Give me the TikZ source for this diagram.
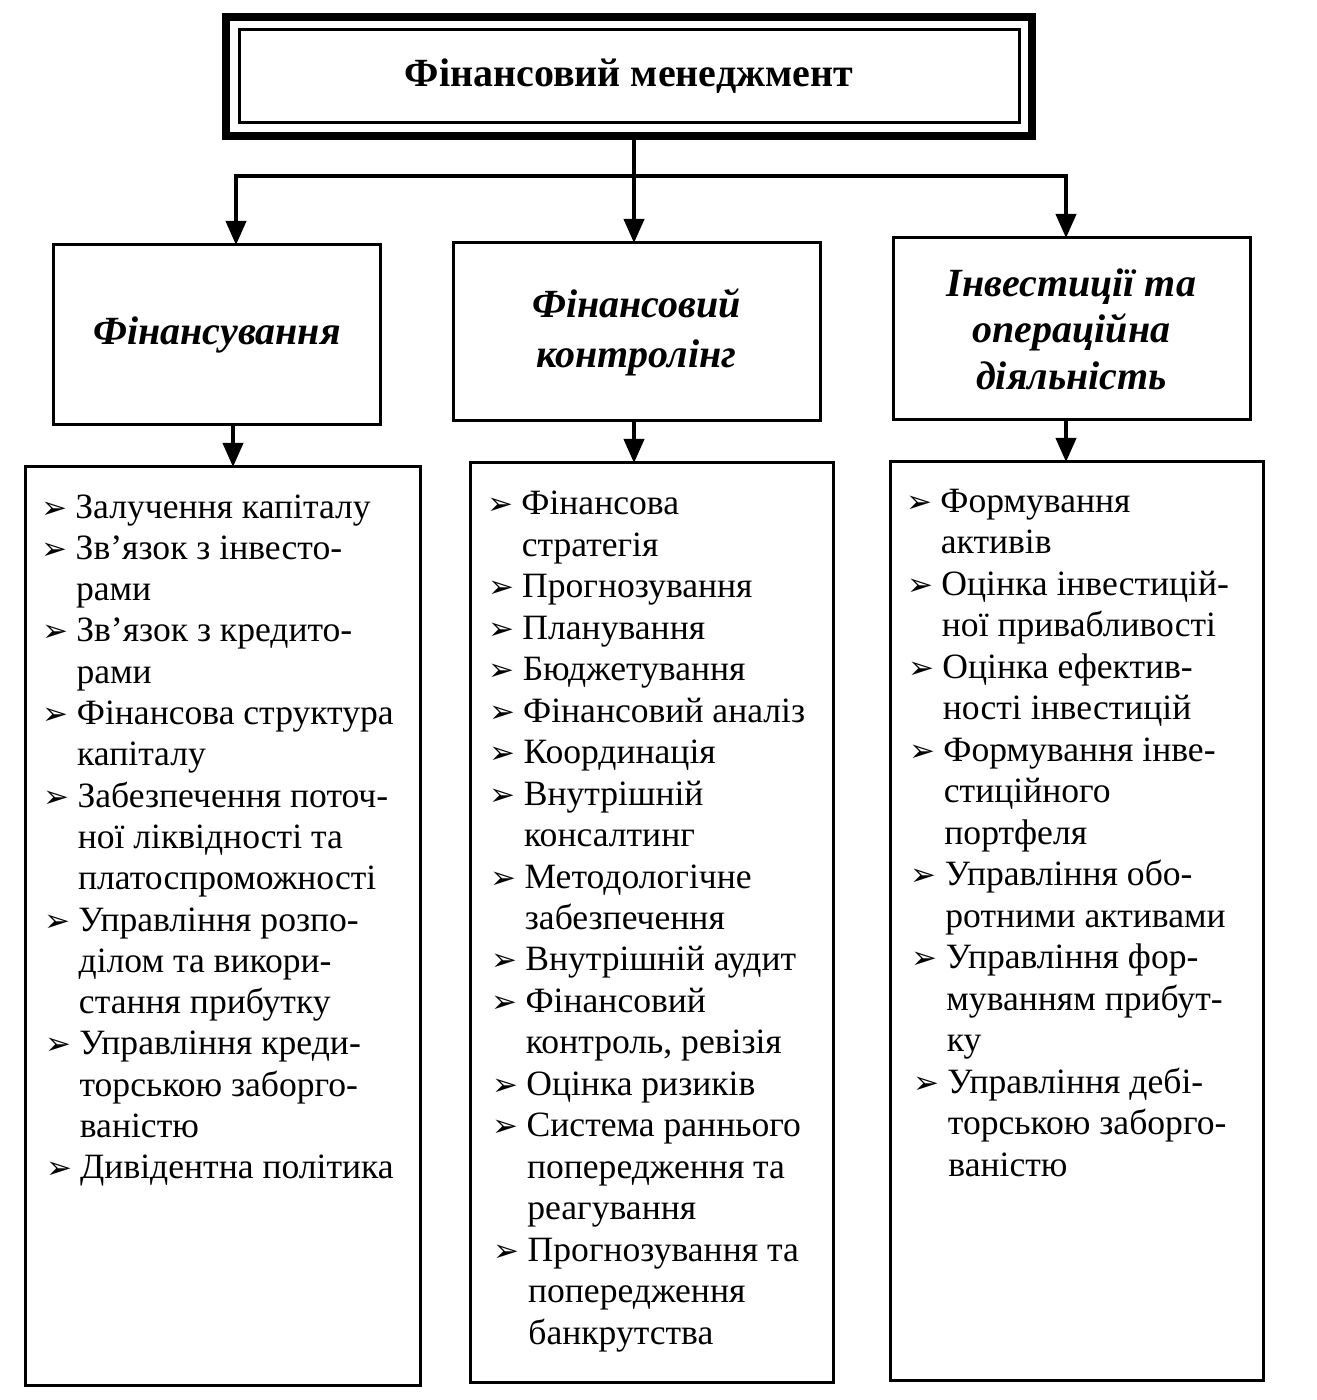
\documentclass[tikz,border=0pt]{standalone}
\usepackage{fontspec}
\setmainfont{Liberation Serif}
\newfontfamily\symfont{DejaVu Sans}
\usetikzlibrary{arrows.meta}
\newcommand\bul{\makebox[17pt][l]{\symfont\fontsize{15.5}{15.5}\selectfont ➢}}
\newcommand\nob{\makebox[17pt][l]{}}
\begin{document}
\begin{tikzpicture}[x=0.5pt,y=-0.5pt,
  box/.style={draw, line width=1.5pt, inner sep=0pt, outer sep=0pt},
  head/.style={box, font=\fontsize{20}{24}\selectfont\bfseries\itshape, align=center},
  li/.style={anchor=base west, inner sep=0pt, font=\fontsize{17.8}{20}\selectfont},
  arr/.style={line width=2pt, -{Triangle[length=12pt,width=10pt]}},
  conn/.style={line width=2pt},
]
\useasboundingbox (0,0) rectangle (1316,1400);
\fill[white] (0,0) rectangle (1316,1400);
% top box
\node[draw, line width=4pt, outer sep=0pt, minimum width=403pt, minimum height=59.5pt,
      font=\fontsize{20}{24}\selectfont\bfseries] (top) at (629,76.5) {Фінансовий менеджмент};
\draw[line width=1.5pt] ([shift={(6.5pt,-6.5pt)}]top.north west) rectangle ([shift={(-6.5pt,6.5pt)}]top.south east);
% header boxes
\node[head, minimum width=163.5pt, minimum height=90pt] (h1) at (217,335) {Фінансування};
\node[head, minimum width=183.5pt, minimum height=89pt, font=\fontsize{20}{25}\selectfont\bfseries\itshape] (h2) at (636.5,332) {Фінансовий\\контролінг};
\node[head, minimum width=178.5pt, minimum height=91pt, font=\fontsize{20}{23.25}\selectfont\bfseries\itshape] (h3) at (1071.5,329) {Інвестиції та\\операційна\\діяльність};
% list boxes
\node[box, minimum width=197.5pt, minimum height=459pt] (l1) at (222.5,926) {};
\node[box, minimum width=181.5pt, minimum height=459.5pt] (l2) at (651.5,922.5) {};
\node[box, minimum width=186.5pt, minimum height=459pt] (l3) at (1076.5,921) {};
% connectors
\coordinate (jm) at (634,176);
\coordinate (jl) at (236,176);
\coordinate (jr) at (1066,176);
\draw[conn] (top.south -| jm) -- (jm);
\draw[conn, line cap=rect] (jl) -- (jr);
\draw[arr] (jl) -- (jl |- h1.north);
\draw[arr] (jm) -- (jm |- h2.north);
\draw[arr] (jr) -- (jr |- h3.north);
\draw[arr] ([xshift=8pt]h1.south) -- ([xshift=8pt]h1.south |- l1.north);
\draw[arr] ([xshift=-1.25pt]h2.south) -- ([xshift=-1.25pt]h2.south |- l2.north);
\draw[arr] ([xshift=-2.75pt]h3.south) -- ([xshift=-2.75pt]h3.south |- l3.north);
% list 1
\foreach \t [count=\i] in {
  {\bul Залучення капіталу},
  {\bul Зв’язок з інвесто-},
  {\nob рами},
  {\bul Зв’язок з кредито-},
  {\nob рами},
  {\bul Фінансова структура},
  {\nob капіталу},
  {\bul Забезпечення поточ-},
  {\nob ної ліквідності та},
  {\nob платоспроможності},
  {\bul Управління розпо-},
  {\nob ділом та викори-},
  {\nob стання прибутку},
  {\bul Управління креди-},
  {\nob торською заборго-},
  {\nob ваністю},
  {\bul Дивідентна політика}}
  \node[li] (a\i) at ({41+0.3*(\i-1)},{518+41.3*(\i-1)}) {\t};
% list 2
\foreach \t [count=\i] in {
  {\bul Фінансова},
  {\nob стратегія},
  {\bul Прогнозування},
  {\bul Планування},
  {\bul Бюджетування},
  {\bul Фінансовий аналіз},
  {\bul Координація},
  {\bul Внутрішній},
  {\nob консалтинг},
  {\bul Методологічне},
  {\nob забезпечення},
  {\bul Внутрішній аудит},
  {\bul Фінансовий},
  {\nob контроль, ревізія},
  {\bul Оцінка ризиків},
  {\bul Система раннього},
  {\nob попередження та},
  {\nob реагування},
  {\bul Прогнозування та},
  {\nob попередження},
  {\nob банкрутства}}
  \node[li] (b\i) at ({487+0.35*(\i-1)},{515+41.45*(\i-1)}) {\t};
% list 3
\foreach \t [count=\i] in {
  {\bul Формування},
  {\nob активів},
  {\bul Оцінка інвестицій-},
  {\nob ної привабливості},
  {\bul Оцінка ефектив-},
  {\nob ності інвестицій},
  {\bul Формування інве-},
  {\nob стиційного},
  {\nob портфеля},
  {\bul Управління обо-},
  {\nob ротними активами},
  {\bul Управління фор-},
  {\nob муванням прибут-},
  {\nob ку},
  {\bul Управління дебі-},
  {\nob торською заборго-},
  {\nob ваністю}}
  \node[li] (c\i) at ({906+0.5*(\i-1)},{512+41.5*(\i-1)}) {\t};
\end{tikzpicture}
\end{document}
